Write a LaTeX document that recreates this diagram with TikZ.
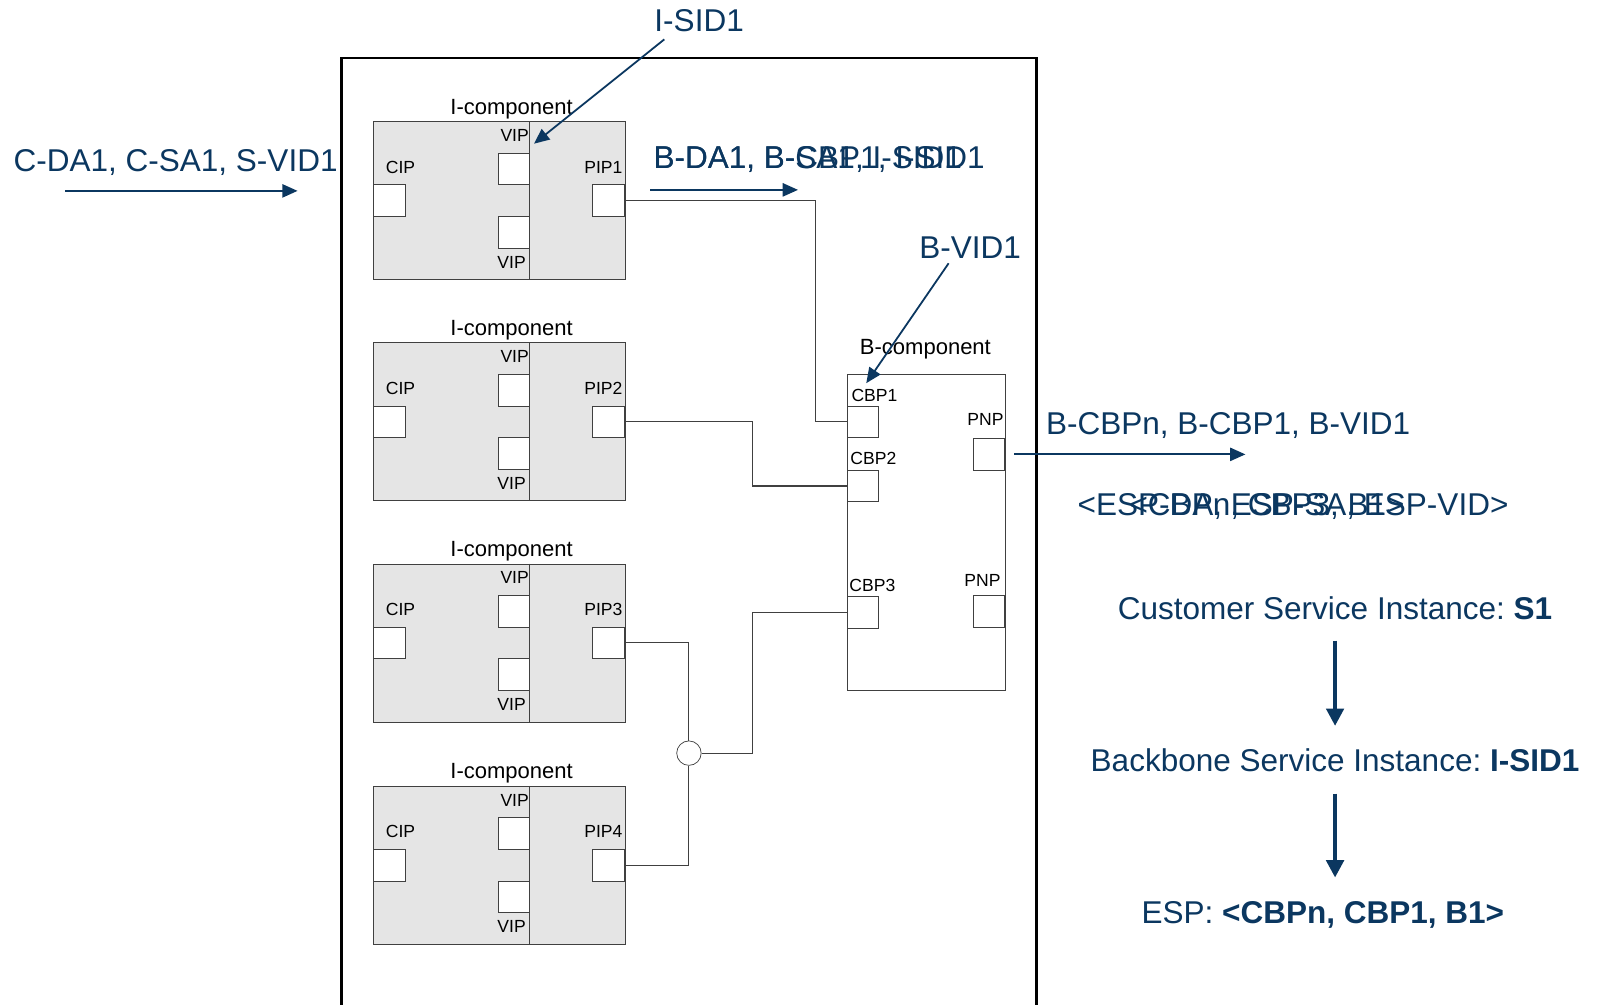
\documentclass[tikz,border=0pt]{standalone}
\usepackage{fontspec}
\setmainfont{Liberation Sans}
\usetikzlibrary{calc,arrows.meta}
\definecolor{pbbblue}{RGB}{11,55,96}
\frenchspacing

\begin{document}
\begin{tikzpicture}[x=0.02cm, y=-0.02cm,
    big/.style={text=pbbblue, font=\fontsize{17.6}{20}\selectfont, inner sep=0pt},
    clabel/.style={font=\fontsize{12.3}{14}\selectfont, inner sep=0pt},
    plabel/.style={font=\fontsize{9.8}{11}\selectfont, inner sep=0pt},
    icomp/.style={draw=black!75, fill=black!10, minimum width=4.94cm, minimum height=3.1cm, inner sep=0pt},
    bcomp/.style={draw=black!75, fill=white, minimum width=3.1cm, minimum height=6.2cm, inner sep=0pt},
    port/.style={draw=black!75, fill=white, minimum width=0.62cm, minimum height=0.62cm, inner sep=0pt},
    link/.style={draw=black!75, line width=0.6pt},
    pointer/.style={draw=pbbblue, line width=1pt, -{Triangle[length=0.3cm, width=0.26cm]}},
    flow/.style={draw=pbbblue, line width=2.2pt, -{Triangle[length=0.34cm, width=0.34cm]}}]
    \useasboundingbox (0,0) rectangle (1568,986);

    % bridge frame
    \draw[line width=1.3pt] (335,990) |- (1017,57) -- (1017,990);

    % the four I-components
    \foreach \i/\y in {1/119,2/336,3/553,4/771}{
        \node[icomp, anchor=north west] (ic\i) at (366,\y) {};
        \draw[draw=black!75, line width=0.6pt] (520,\y) -- (520,\y+155);
        \node[clabel, anchor=base] (icl\i) at (502,\y-7) {I-component};
        \node[port, anchor=north west] (cip\i) at (366,\y+62) {};
        \node[port, anchor=north east] (vipa\i) at (520,\y+31) {};
        \node[port, anchor=north east] (vipb\i) at (520,\y+93) {};
        \node[port, anchor=north east] (pip\i) at (613,\y+62) {};
        \node[plabel, anchor=base] (cipl\i) at (393,\y+51) {CIP};
        \node[plabel, anchor=base] (vipal\i) at (505,\y+20) {VIP};
        \node[plabel, anchor=base] (vipbl\i) at (502,\y+144) {VIP};
        \node[plabel, anchor=base] (pipl\i) at (592,\y+51) {PIP\i};
    }

    % B-component
    \node[bcomp, anchor=north west] (bc) at (831,367) {};
    \node[clabel, anchor=base] (bcl) at (908,348) {B-component};
    \node[port, anchor=north west] (cbp1) at (831,398) {};
    \node[port, anchor=north west] (cbp2) at (831,461) {};
    \node[port, anchor=north west] (cbp3) at (831,585) {};
    \node[port, anchor=north east] (pnpa) at (986,430) {};
    \node[port, anchor=north east] (pnpb) at (986,584) {};
    \node[plabel, anchor=base] (cbpl1) at (858,394) {CBP1};
    \node[plabel, anchor=base] (cbpl2) at (857,456) {CBP2};
    \node[plabel, anchor=base] (cbpl3) at (856,580) {CBP3};
    \node[plabel, anchor=base] (pnpla) at (967,418) {PNP};
    \node[plabel, anchor=base] (pnplb) at (964,575) {PNP};

    % wiring between PIPs and CBPs
    \node[circle, draw=black!75, fill=white, minimum size=0.48cm, inner sep=0pt] (joint) at (676,739) {};
    \draw[link] (pip1.east) -- ++(187,0) |- (cbp1.west);
    \draw[link] (pip2.east) -- ++(125,0) |- (cbp2.west);
    \draw[link] (pip3.east) -| (joint.north);
    \draw[link] (pip4.east) -| (joint.south);
    \draw[link] (joint.east) -- ++(50,0) |- (cbp3.west);

    % frame headers
    \node[big, anchor=base] (isid) at (686,31) {I-SID1};
    \draw[pointer] ($(isid.south west)+(10,7)$) -- ($(vipa1.north east)+(4,-9)$);
    \node[big, anchor=base west] (cda) at (13,168) {C-DA1, C-SA1, S-VID1};
    \draw[pointer] ($(cda.south west)+(51,15)$) -- ++(228,0);
    \node[big, anchor=base west] (bda) at (641,165) {B-DA1, B-CBP1, I-SID1};
    \node[big, anchor=base west] (bsa) at (641,165) {B-DA1, B-SA1, I-SID1};
    \draw[pointer] ($(bda.south west)+(-3,17)$) -- ++(145,0);
    \node[big, anchor=base] (bvid) at (952,254) {B-VID1};
    \draw[pointer] ($(bvid.south west)+(29,4)$) -- ($(bc.north west)+(19,9)$);
    \node[big, anchor=base west] (bcbp) at (1026,426) {B-CBPn, B-CBP1, B-VID1};
    \draw[pointer] ($(pnpa.east)+(9,0)$) -- ++(227,0);
    \node[big, anchor=base west] (espa) at (1057,506) {<ESP-DA, ESP-SA, ESP-VID>};
    \node[big, anchor=base west] (espb) at (1108,506) {<CBPn, CBP3, B1>};

    % service instance mapping
    \node[big, anchor=base] (csi) at (1310,608) {Customer Service Instance: \textbf{S1}};
    \node[big, anchor=base] (bsi) at (1310,757) {Backbone Service Instance: \textbf{I-SID1}};
    \node[big, anchor=base] (esp) at (1298,906) {ESP: \textbf{<CBPn, CBP1, B1>}};
    \draw[flow, shorten <=0.4cm, shorten >=0.44cm] (csi.south) -- (bsi.north);
    \draw[flow, shorten <=0.42cm, shorten >=0.46cm] (bsi.south) -- (bsi.south |- esp.north);
\end{tikzpicture}
\end{document}
